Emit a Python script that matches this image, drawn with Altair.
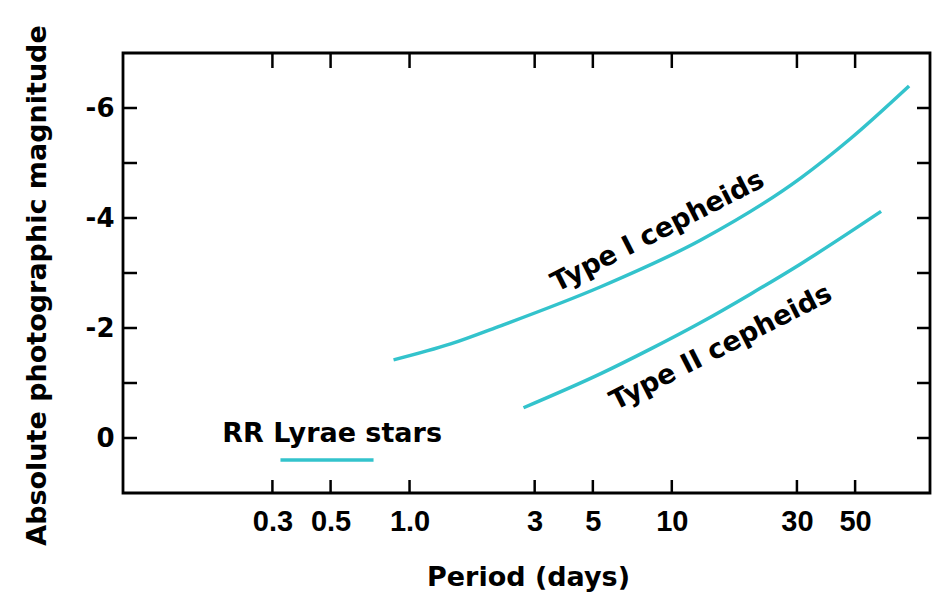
import altair as alt
import pandas as pd

# ---- data ----
rr_period = [0.322, 0.729]
rr_mag = [0.4, 0.4]

t1_period = [0.869, 1.434, 2.225, 5.358, 12.90, 31.08, 48.2, 80.3]
t1_mag = [-1.42, -1.71, -2.04, -2.75, -3.60, -4.73, -5.45, -6.40]

t2_period = [2.72, 5.36, 8.31, 12.9, 20.0, 31.1, 62.8]
t2_mag = [-0.55, -1.17, -1.62, -2.10, -2.62, -3.17, -4.12]

x_ticks = [0.3, 0.5, 1, 3, 5, 10, 30, 50]
x_tick_labels = ["0.3", "0.5", "1.0", "3", "5", "10", "30", "50"]
y_ticks = [-6, -4, -2, 0]
y_tick_labels = ["-6", "-4", "-2", "0"]
y_minor = [-6, -5, -4, -3, -2, -1, 0]

ann_text = ["Type I cepheids", "Type II cepheids"]
ann_period = [8.84, 15.4]
ann_mag = [-3.75, -1.64]
rr_text = ["RR Lyrae stars"]
rr_text_period = [0.193]
rr_text_mag = [0.07]

# ---- tables ----
rows = []
for name, ps, ms in [("RR Lyrae", rr_period, rr_mag),
                     ("Type I", t1_period, t1_mag),
                     ("Type II", t2_period, t2_mag)]:
    for i, (p, m) in enumerate(zip(ps, ms)):
        rows.append({"series": name, "i": i, "period": p, "mag": m})
lines_df = pd.DataFrame(rows)
ann_df = pd.DataFrame({"text": ann_text, "period": ann_period, "mag": ann_mag})
rr_df = pd.DataFrame({"text": rr_text, "period": rr_text_period, "mag": rr_text_mag})
xt_df = pd.DataFrame({"period": x_ticks})
yt_df = pd.DataFrame({"mag": y_minor})

W, H = 807, 440
LINE = "#33c3cc"

def arr(v):
    return "[" + ",".join(repr(x) for x in v) + "]"

x_expr = f"{arr(x_tick_labels)}[indexof({arr(x_ticks)}, datum.value)]"
y_expr = f"{arr(y_tick_labels)}[indexof({arr(y_ticks)}, datum.value)]"

xscale = alt.Scale(type="log", domain=[0.0808, 96.5])
yscale = alt.Scale(domain=[-7, 1], reverse=True)

x_axis = alt.Axis(values=x_ticks, labelExpr=x_expr, title="Period (days)",
                  ticks=False, tickSize=0, domain=False, grid=False,
                  labelFont="Liberation Sans", labelFontWeight="bold", labelFontSize=29,
                  labelPadding=37, labelBaseline="alphabetic", labelColor="black",
                  labelFlush=False, labelOverlap=False,
                  titleFont="DejaVu Sans", titleFontWeight="bold", titleFontSize=27,
                  titleColor="black", titleX=405, titleY=92, titleAlign="center",
                  titleBaseline="alphabetic")
y_axis = alt.Axis(values=y_ticks, labelExpr=y_expr, title="Absolute photographic magnitude",
                  ticks=False, tickSize=0, domain=False, grid=False,
                  labelFont="DejaVu Sans", labelFontWeight="bold", labelFontSize=26,
                  labelPadding=9, labelBaseline="middle", labelColor="black",
                  labelOverlap=False,
                  titleFont="DejaVu Sans", titleFontWeight="bold", titleFontSize=27,
                  titleColor="black", titleAngle=270, titleX=-86, titleY=232,
                  titleAlign="center", titleBaseline="middle")

X = alt.X("period:Q", scale=xscale, axis=x_axis)
Y = alt.Y("mag:Q", scale=yscale, axis=y_axis)

curves = alt.Chart(lines_df).mark_line(color=LINE, strokeWidth=3.5, interpolate="monotone").encode(
    x=X, y=Y, detail="series:N", order="i:Q")

types = alt.Chart(ann_df).mark_text(font="DejaVu Sans", fontWeight="bold", fontSize=27,
                                     color="black", angle=333, align="center",
                                     baseline="middle").encode(x=X, y=Y, text="text:N")
rr_lab = alt.Chart(rr_df).mark_text(font="DejaVu Sans", fontWeight="bold", fontSize=27,
                                     color="black", align="left",
                                     baseline="alphabetic").encode(x=X, y=Y, text="text:N")

tick_style = dict(color="black", strokeWidth=2.5)
bottom_ticks = alt.Chart(xt_df).mark_rule(**tick_style).encode(
    x=X, y=alt.value(H), y2=alt.value(H - 13))
top_ticks = alt.Chart(xt_df).mark_rule(**tick_style).encode(
    x=X, y=alt.value(0), y2=alt.value(15))
left_ticks = alt.Chart(yt_df).mark_rule(**tick_style).encode(
    y=Y, x=alt.value(0), x2=alt.value(14))
right_ticks = alt.Chart(yt_df).mark_rule(**tick_style).encode(
    y=Y, x=alt.value(W), x2=alt.value(W - 13))

chart = alt.layer(curves, types, rr_lab, bottom_ticks, top_ticks, left_ticks, right_ticks).properties(
    width=W, height=H,
    autosize=alt.AutoSizeParams(type="none"),
    padding={"left": 115, "top": 45, "right": 4, "bottom": 100},
    background="white",
).configure_view(stroke="black", strokeWidth=2.8)

chart.save("out.html", embed_options={"renderer": "svg", "actions": False})
